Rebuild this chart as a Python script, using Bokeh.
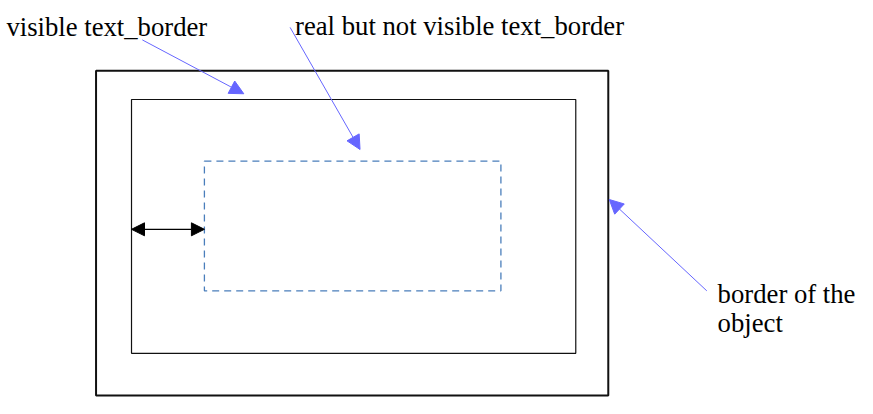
from bokeh.plotting import figure
from bokeh.models import Range1d, Arrow, NormalHead, ColumnDataSource
from bokeh.core.properties import value
from bokeh.embed import file_html
from bokeh.resources import INLINE

# Boxes (image-pixel coordinates): left, right, top, bottom
box_names = ["object border", "visible text_border", "real text_border"]
box_left = [97, 133, 207]
box_right = [617, 584, 508]
box_top = [73, 103, 167]
box_bottom = [411, 367, 302]

# Callout arrows: start -> tip
arrow_x0 = [144, 294, 717]
arrow_y0 = [41, 28, 302]
arrow_x1 = [247, 365, 618]
arrow_y1 = [97, 155, 207]

# Double arrow (padding)
pad_x = [133, 207]
pad_y = [238, 238]

# Labels
label_text = ["visible text_border", "real but not visible text_border", "border of the", "object"]
label_x = [6, 299, 728, 728]
label_y = [28, 27, 305, 335]

p = figure(width=857, height=398, output_backend="svg", toolbar_location=None,
           x_range=Range1d(0, 870), y_range=Range1d(414, 0), min_border=0)
p.axis.visible = False
p.grid.visible = False
p.outline_line_color = None
p.background_fill_color = "white"

# outer border
p.quad(left=[box_left[0]], right=[box_right[0]], top=[box_top[0]], bottom=[box_bottom[0]],
       fill_alpha=0, line_color="#111111", line_width=2)
# visible text border
p.quad(left=[box_left[1]], right=[box_right[1]], top=[box_top[1]], bottom=[box_bottom[1]],
       fill_alpha=0, line_color="#111111", line_width=1.2)
# real text border (dashed)
p.quad(left=[box_left[2]], right=[box_right[2]], top=[box_top[2]], bottom=[box_bottom[2]],
       fill_alpha=0, line_color="#4a7ebb", line_width=1.3, line_dash="7 5")

blue = "#6666ff"
for x0, y0, x1, y1 in zip(arrow_x0, arrow_y0, arrow_x1, arrow_y1):
    p.add_layout(Arrow(x_start=x0, y_start=y0, x_end=x1, y_end=y1,
                       line_color=blue, line_width=1,
                       end=NormalHead(size=14, fill_color=blue, line_color=blue)))

p.add_layout(Arrow(x_start=pad_x[0], y_start=pad_y[0], x_end=pad_x[1], y_end=pad_y[1],
                   line_color="black", line_width=1.2,
                   start=NormalHead(size=13, fill_color="black", line_color="black"),
                   end=NormalHead(size=13, fill_color="black", line_color="black")))

src = ColumnDataSource(dict(x=label_x, y=label_y, t=label_text))
p.text(x="x", y="y", text="t", source=src, text_font=value("Liberation Serif"),
       text_font_size="26.7px", text_color="black", text_baseline="alphabetic",
       text_align="left")

open("out.html", "w").write(file_html(p, INLINE))
